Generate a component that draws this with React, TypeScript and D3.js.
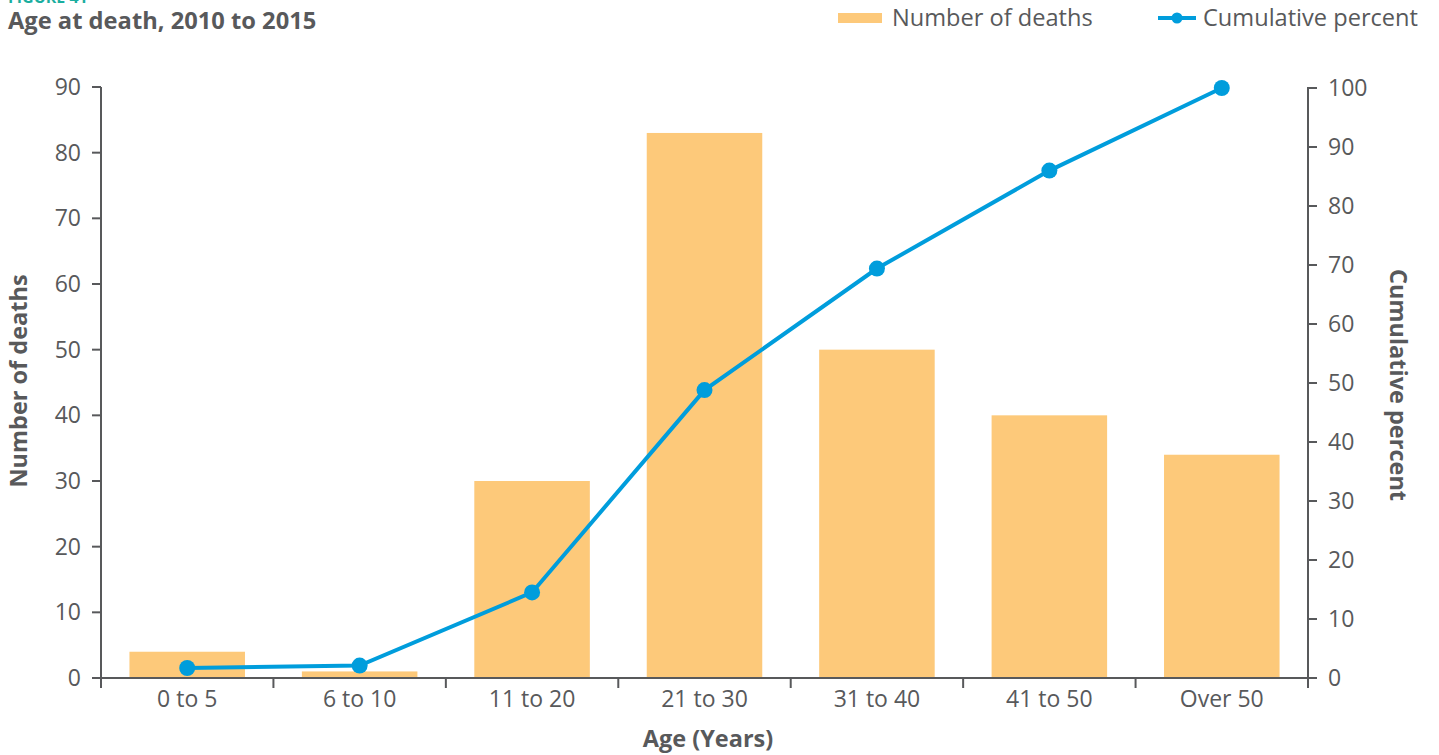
import React from "react";
import * as d3 from "d3";

const categories = ["0 to 5", "6 to 10", "11 to 20", "21 to 30", "31 to 40", "41 to 50", "Over 50"];
const deaths = [4, 1, 30, 83, 50, 40, 34];
const cumulativePercent = [1.7, 2.1, 14.5, 48.8, 69.4, 86.0, 100];
const leftTicks = [0, 10, 20, 30, 40, 50, 60, 70, 80, 90];
const rightTicks = [0, 10, 20, 30, 40, 50, 60, 70, 80, 90, 100];

const W = 1439;
const H = 755;
const left = 101;
const right = 1308;
const top = 87;
const bottom = 678;
const TEXT = "#58595b";
const BAR = "#fdc97a";
const LINE = "#009ddc";
const FONT = "'Open Sans', sans-serif";
const FS = 23;

export default function App() {
  const x = d3.scaleBand<string>().domain(categories).range([left, right]).paddingInner(0.33).paddingOuter(0.165);
  const xb = d3.scaleBand<string>().domain(categories).range([left, right]);
  const yL = d3.scaleLinear().domain([0, 90]).range([bottom, top]);
  const yR = d3.scaleLinear().domain([0, 100]).range([bottom, top + 1]);
  const line = d3
    .line<number>()
    .x((_, i) => (xb(categories[i]) as number) + xb.bandwidth() / 2)
    .y((d) => yR(d));

  const xTicks = categories.map((c) => xb(c) as number).concat([right]);

  return (
    <svg width={W} height={H} style={{ position: "absolute", left: 0, top: 0, fontFamily: FONT }}>
      <text x={8} y={3} fill="#1aae9f" fontWeight={700} fontSize={16}>FIGURE 41</text>
      <text x={8} y={29} fill={TEXT} fontWeight={700} fontSize={23.7}>Age at death, 2010 to 2015</text>

      {/* legend */}
      <rect x={838} y={13} width={44} height={10} fill={BAR} />
      <text x={892} y={26} fill={TEXT} fontSize={23.6}>Number of deaths</text>
      <line x1={1158} x2={1196} y1={18} y2={18} stroke={LINE} strokeWidth={4} />
      <circle cx={1177} cy={18} r={5.5} fill={LINE} />
      <text x={1203} y={26} fill={TEXT} fontSize={23.6}>Cumulative percent</text>

      {/* bars */}
      {deaths.map((d, i) => (
        <rect
          key={i}
          x={x(categories[i]) as number}
          y={yL(d)}
          width={x.bandwidth()}
          height={bottom - yL(d)}
          fill={BAR}
        />
      ))}

      {/* axes */}
      <g stroke={TEXT} strokeWidth={2}>
        <line x1={left} x2={left} y1={top} y2={bottom} />
        <line x1={right} x2={right} y1={top} y2={bottom} />
        <line x1={left - 9} x2={right + 9} y1={bottom} y2={bottom} />
        {leftTicks.map((t) => (
          <line key={"l" + t} x1={left - 9} x2={left} y1={yL(t)} y2={yL(t)} />
        ))}
        {rightTicks.map((t) => (
          <line key={"r" + t} x1={right} x2={right + 9} y1={yR(t)} y2={yR(t)} />
        ))}
        {xTicks.map((t, i) => (
          <line key={"x" + i} x1={t} x2={t} y1={bottom} y2={bottom + 10} />
        ))}
      </g>

      {leftTicks.map((t) => (
        <text key={"lt" + t} x={left - 20} y={yL(t)} dy="0.35em" textAnchor="end" fill={TEXT} fontSize={FS}>
          {t}
        </text>
      ))}
      {rightTicks.map((t) => (
        <text key={"rt" + t} x={right + 20} y={yR(t)} dy="0.35em" textAnchor="start" fill={TEXT} fontSize={FS}>
          {t}
        </text>
      ))}
      {categories.map((c) => (
        <text
          key={"c" + c}
          x={(xb(c) as number) + xb.bandwidth() / 2}
          y={707}
          textAnchor="middle"
          fill={TEXT}
          fontSize={FS}
        >
          {c}
        </text>
      ))}

      {/* line */}
      <path d={line(cumulativePercent) || ""} fill="none" stroke={LINE} strokeWidth={4} />
      {cumulativePercent.map((v, i) => (
        <circle
          key={"p" + i}
          cx={(xb(categories[i]) as number) + xb.bandwidth() / 2}
          cy={yR(v)}
          r={8}
          fill={LINE}
        />
      ))}

      {/* axis titles */}
      <text
        transform={`translate(27,381) rotate(-90)`}
        textAnchor="middle"
        fill={TEXT}
        fontWeight={700}
        fontSize={23.5}
      >
        Number of deaths
      </text>
      <text
        transform={`translate(1390,385) rotate(90)`}
        textAnchor="middle"
        fill={TEXT}
        fontWeight={700}
        fontSize={23.5}
      >
        Cumulative percent
      </text>
      <text x={708} y={747} textAnchor="middle" fill={TEXT} fontWeight={700} fontSize={23.5}>
        Age (Years)
      </text>
    </svg>
  );
}
